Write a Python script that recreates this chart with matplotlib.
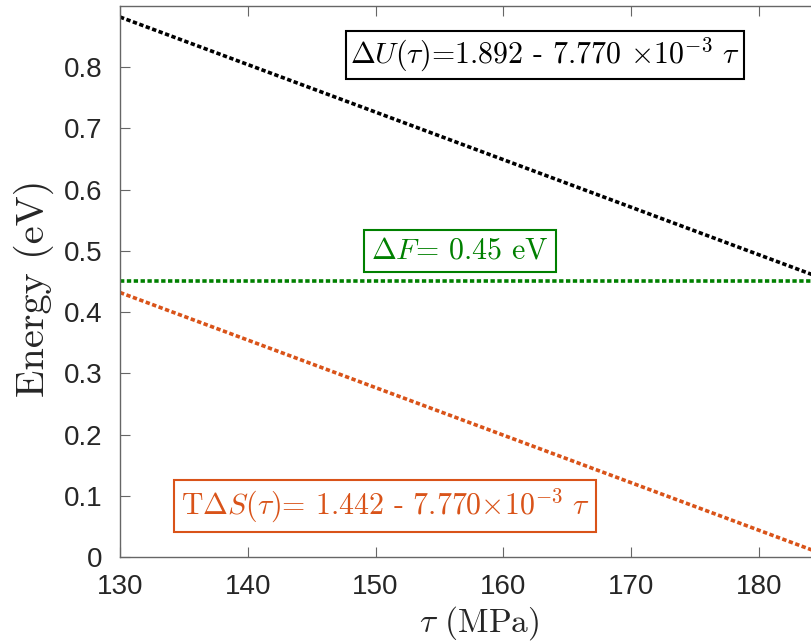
import matplotlib
matplotlib.use("Agg")
import matplotlib.pyplot as plt

# values (end points of the straight lines)
tau = [130, 184.2]
dU = [0.882, 0.461]
TdS = [0.432, 0.011]
dF = [0.45, 0.45]

xticks = [130, 140, 150, 160, 170, 180]
yticks = [0, 0.1, 0.2, 0.3, 0.4, 0.5, 0.6, 0.7, 0.8]
ytick_labels = ["0", "0.1", "0.2", "0.3", "0.4", "0.5", "0.6", "0.7", "0.8"]

black = "black"
green = (0.0, 0.5, 0.0)
orange = (0.85, 0.325, 0.098)
grey = (0.15, 0.15, 0.15)

plt.rcParams["mathtext.fontset"] = "cm"
plt.rcParams["font.family"] = ["Liberation Sans", "DejaVu Sans"]

fig = plt.figure(figsize=(8.12, 6.44), dpi=100)
# the original axes run a bit past the right edge of the picture
ax = fig.add_axes([120 / 812, 87 / 644, 718 / 812, (557 - 6) / 644])

dots = (0, (1.2, 0.7))
for yy, c in [(dU, black), (dF, green), (TdS, orange)]:
    ax.plot(tau, yy, color=c, lw=2.6, linestyle=dots, dash_capstyle="butt")

ax.set_xlim(130, 130 + 718 / 12.78)
ax.set_ylim(0, 0.9)
ax.set_xticks(xticks)
ax.set_yticks(yticks)
ax.set_yticklabels(ytick_labels)

for s in ["left", "bottom", "top"]:
    ax.spines[s].set_color("0.4")
    ax.spines[s].set_linewidth(1.0)
ax.spines["right"].set_visible(False)
ax.tick_params(direction="in", length=7, width=0.8, color="0.4",
               labelsize=20, labelcolor=grey, top=True, right=False, pad=12.5)

ax.set_xlabel(r"$\tau$ (MPa)", fontsize=24, color=grey, family="cmr10",
              labelpad=3)
ax.set_ylabel("Energy (eV)", fontsize=29, color=grey, family="cmr10")
ax.yaxis.set_label_coords(-0.092, 0.488)

def box(x, y, s, c, pad):
    ax.text(x, y, s, transform=fig.transFigure, ha="center", va="center",
            fontsize=21.5, color=c, family="cmr10",
            bbox=dict(boxstyle="square,pad=%s" % pad, fc="white", ec=c, lw=1.5))

box(545 / 812, 1 - 55 / 644,
    r"$\Delta U(\tau)$=1.892 - 7.770 $\times 10^{-3}\ \tau$", black, 0.15)
box(460 / 812, 1 - 251 / 644, r"$\Delta F$= 0.45 eV", green, 0.25)
box(385 / 812, 1 - 506 / 644,
    r"T$\Delta S(\tau)$= 1.442 - 7.770$\times 10^{-3}\ \tau$", orange, 0.22)

fig.savefig("out.png", dpi=100)
